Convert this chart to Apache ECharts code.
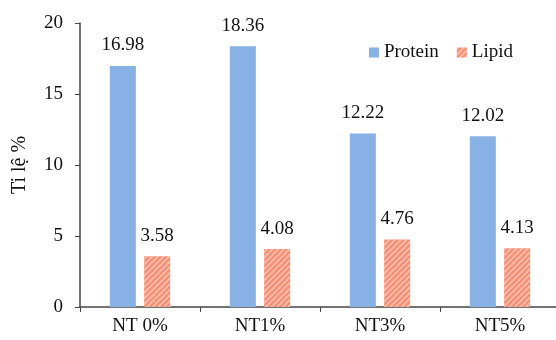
<!DOCTYPE html>
<html><head><meta charset="utf-8">
<script src="https://cdn.jsdelivr.net/npm/echarts@6/dist/echarts.min.js"></script>
<style>html,body{margin:0;padding:0;background:#fff}#c{width:556px;height:340px}</style>
</head><body><div id="c"></div>
<script>
const categories = ['NT 0%', 'NT1%', 'NT3%', 'NT5%'];
const protein = [16.98, 18.36, 12.22, 12.02];
const lipid = [3.58, 4.08, 4.76, 4.13];
const yTicks = [0, 5, 10, 15, 20];
const font = 'Liberation Serif';
const chart = echarts.init(document.getElementById('c'));
const lbl = {show: true, position: 'top', distance: 11, color: '#111', fontFamily: font, fontSize: 19, formatter: p => p.value.toFixed(2)};
chart.setOption({
  animation: false,
  grid: {left: 80, right: -4, top: 23, bottom: 33, containLabel: false, outerBoundsMode: 'none'},
  legend: {
    data: ['Protein', 'Lipid'], right: 38, top: 38, itemWidth: 10, itemHeight: 10, itemGap: 18,
    textStyle: {fontFamily: font, fontSize: 19, color: '#111'}, icon: 'rect'
  },
  xAxis: {
    type: 'category', data: categories,
    axisLine: {lineStyle: {color: '#444', width: 1.5}},
    axisTick: {show: true, length: 5, lineStyle: {color: '#444'}, alignWithLabel: false},
    axisLabel: {fontFamily: font, fontSize: 19, color: '#111', margin: 10}
  },
  yAxis: {
    type: 'value', min: yTicks[0], max: yTicks[yTicks.length - 1], interval: 5,
    name: 'Ti lệ %', nameLocation: 'middle', nameGap: 50,
    nameTextStyle: {fontFamily: font, fontSize: 20, color: '#111'},
    axisLine: {show: true, lineStyle: {color: '#444', width: 1.5}},
    axisTick: {show: true, length: 5, lineStyle: {color: '#444'}},
    splitLine: {show: false},
    axisLabel: {fontFamily: font, fontSize: 19, color: '#111', margin: 17}
  },
  series: [
    {name: 'Protein', type: 'bar', data: protein, barWidth: 26, barGap: '32%',
     itemStyle: {color: '#7aa8e4', decal: {symbol: 'circle', symbolSize: 0.7, dashArrayX: [2, 0], dashArrayY: [2, 0], color: 'rgba(255,255,255,0.3)'}},
     label: lbl},
    {name: 'Lipid', type: 'bar', data: lipid, barWidth: 26,
     itemStyle: {color: '#f58c70', decal: {symbol: 'rect', dashArrayX: [1, 0], dashArrayY: [2, 2], rotation: -Math.PI / 4, color: 'rgba(255,255,255,0.4)'}},
     label: lbl}
  ]
});
</script></body></html>
